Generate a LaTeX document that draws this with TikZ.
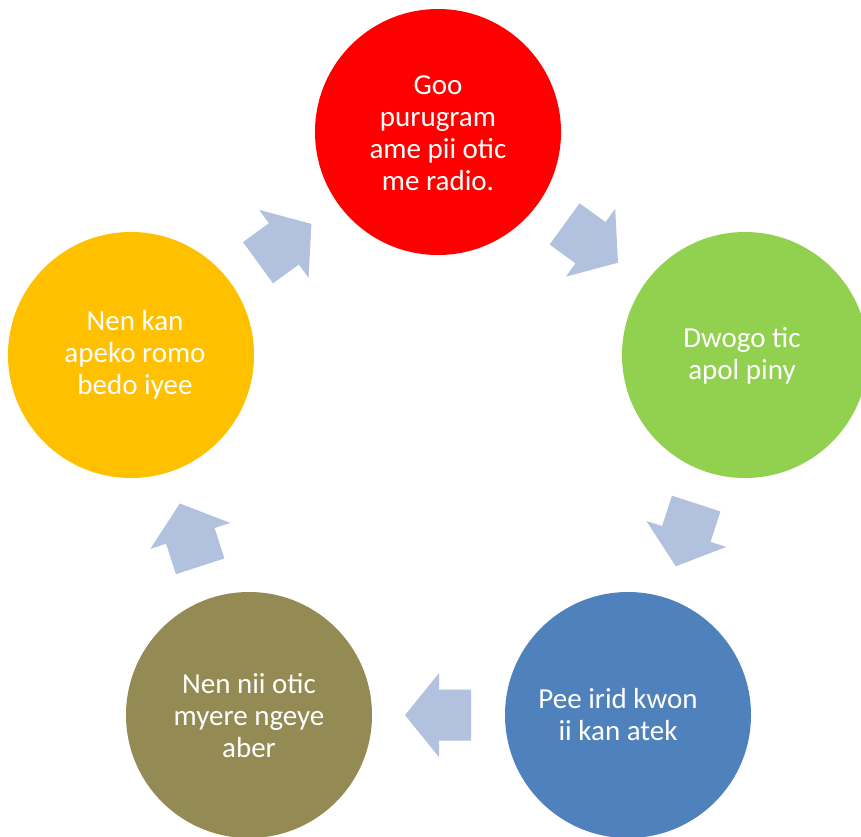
\documentclass[tikz,border=0pt]{standalone}
\usepackage{fontspec}
\setmainfont{Carlito}
\definecolor{cred}{HTML}{FF0000}
\definecolor{cgreen}{HTML}{92D050}
\definecolor{cblue}{HTML}{4F81BD}
\definecolor{colive}{HTML}{948A54}
\definecolor{cyellow}{HTML}{FFC000}
\definecolor{carrow}{HTML}{B2C2DE}
\begin{document}
\begin{tikzpicture}[x=1pt,y=-1pt,
  stage/.style={circle,minimum size=246pt,inner sep=0pt,text=white,align=center,
    font=\fontsize{29}{32}\selectfont},
  blockarrow/.style={fill=carrow,draw=none}]
\useasboundingbox (0,0) rectangle (861,836);
\clip (0,0) rectangle (861,836);
\fill[white] (0,0) rectangle (861,836);
\node[stage,fill=cred]    (s1) at (438,132) {};
\node[stage,fill=cgreen]  (s2) at (745,355) {};
\node[stage,fill=cblue]   (s3) at (628,715) {};
\node[stage,fill=colive]  (s4) at (249,715) {};
\node[stage,fill=cyellow] (s5) at (131,355) {};
\node[stage] (t1) at (438,133) {Goo\\purugram\\ame pii otic\\me radio.};
\node[stage] (t2) at (742,356) {Dwogo tic\\apol piny};
\node[stage] (t3) at (618,715) {Pee irid kwon\\ii kan atek};
\node[stage] (t4) at (249,716) {Nen nii otic\\myere ngeye\\aber};
\node[stage] (t5) at (135,355) {Nen kan\\apeko romo\\bedo iyee};
\foreach \cx/\cy/\ang in {591.3/243.3/-36, 686.0/534.9/-108, 438.0/715.1/180, 190.0/534.9/108, 284.7/243.3/36}{
  \begin{scope}[shift={(\cx,\cy)},rotate=\ang]
    \fill[blockarrow] (33,0) -- (-1,42) -- (-1,25.5) -- (-33,25.5) -- (-33,-25.5) -- (-1,-25.5) -- (-1,-42) -- cycle;
  \end{scope}
}
\end{tikzpicture}
\end{document}
